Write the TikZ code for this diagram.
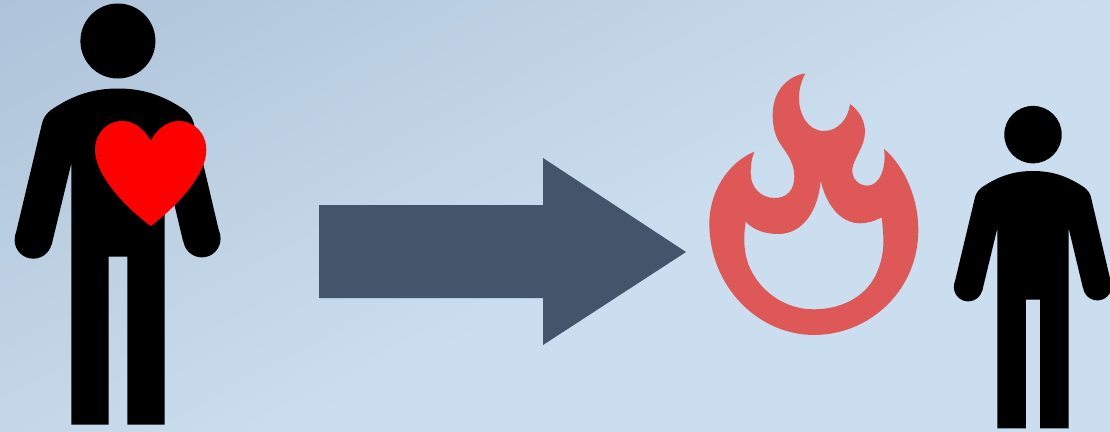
\documentclass[tikz,border=0pt]{standalone}
\definecolor{bgdark}{RGB}{174,194,218}
\definecolor{bgmid}{RGB}{189,209,227}
\definecolor{bglight}{RGB}{202,222,240}
\definecolor{arrowslate}{RGB}{68,84,106}
\definecolor{flamered}{RGB}{223,88,88}
\definecolor{heartred}{RGB}{255,0,0}
\pgfdeclareverticalshading{slidebg}{100bp}{color(0bp)=(bglight); color(47.5bp)=(bglight); color(56.8bp)=(bgmid); color(66.1bp)=(bgdark); color(100bp)=(bgdark)}
\tikzset{
  person/.pic={
    \fill[black] (0,-47.5) circle[radius=37.5];
    \fill[black] (0,0) .. controls (27,0) and (47,8) .. (67,21.5)
      .. controls (71,25) and (74,28) .. (75.5,33.5)
      -- (102,146.5) -- (65.3,153.2) -- (46.6,75) -- (46.6,336) -- (9.4,336) -- (9.4,168)
      -- (-9.2,168) -- (-9.2,336) -- (-46.6,336) -- (-46.6,75) -- (-66.3,156.5)
      -- (-102.7,147.5) -- (-75.7,34.2)
      .. controls (-74,28) and (-71,25) .. (-67,21.5)
      .. controls (-47,8) and (-27,0) .. (0,0) -- cycle;
    \fill[black] (84,150.2) circle[radius=18.7];
    \fill[black] (-84.6,151.5) circle[radius=18.7];
  }
}
\begin{document}
\begin{tikzpicture}[x=1pt,y=-1pt]
\useasboundingbox (0,0) rectangle (1110,431);
\clip (0,0) rectangle (1110,431);
\shade[shading=slidebg,shading angle=28] (-145,-485) rectangle (1255,915);
% left person and heart
\pic at (117.9,88.5) {person};
\fill[heartred] (150.7,141) .. controls (145,130) and (134,121) .. (122.7,121)
  .. controls (106,121) and (95,134) .. (95,150)
  .. controls (95,175) and (125,207) .. (150.7,226)
  .. controls (176,207) and (206.3,175) .. (206.3,150)
  .. controls (206.3,134) and (195,121) .. (178.3,121)
  .. controls (167,121) and (156,130) .. (150.7,141) -- cycle;
% arrow
\fill[arrowslate] (319,205) -- (543,205) -- (543,158) -- (686,252) -- (543,345) -- (543,298) -- (319,298) -- cycle;
% flame
\begin{scope}[shift={(700,60)},x=0.3333pt,y=-0.3333pt]
\fill[flamered,even odd rule] (316,40) .. controls (255,50) and (218,100) .. (218,165)
  .. controls (218,205) and (228,235) .. (245,258)
  .. controls (268,290) and (283,315) .. (283,350)
  .. controls (283,390) and (260,414) .. (225,414)
  .. controls (180,414) and (152,380) .. (152,340)
  .. controls (152,315) and (155,295) .. (163,275)
  .. controls (80,310) and (28,400) .. (28,490)
  .. controls (28,680) and (175,825) .. (342,825)
  .. controls (510,825) and (655,690) .. (655,510)
  .. controls (655,410) and (610,315) .. (552,267)
  .. controls (560,320) and (540,377) .. (503,377)
  .. controls (475,377) and (455,355) .. (457,328)
  .. controls (460,295) and (495,260) .. (495,215)
  .. controls (495,180) and (475,150) .. (450,132)
  .. controls (445,175) and (415,213) .. (372,213)
  .. controls (325,213) and (297,165) .. (297,115)
  .. controls (297,85) and (305,60) .. (316,40) -- cycle
  (362,362) .. controls (355,450) and (310,522) .. (235,522)
  .. controls (195,522) and (160,510) .. (137,485)
  .. controls (130,530) and (130,580) .. (150,625)
  .. controls (185,700) and (260,748) .. (340,748)
  .. controls (420,748) and (490,715) .. (525,650)
  .. controls (545,610) and (552,570) .. (550,530)
  .. controls (549,510) and (547,490) .. (545,472)
  .. controls (520,485) and (500,490) .. (480,490)
  .. controls (425,490) and (380,440) .. (362,362) -- cycle;
\end{scope}
% right person
\pic[scale=0.766] at (1033,171) {person};
\end{tikzpicture}
\end{document}
